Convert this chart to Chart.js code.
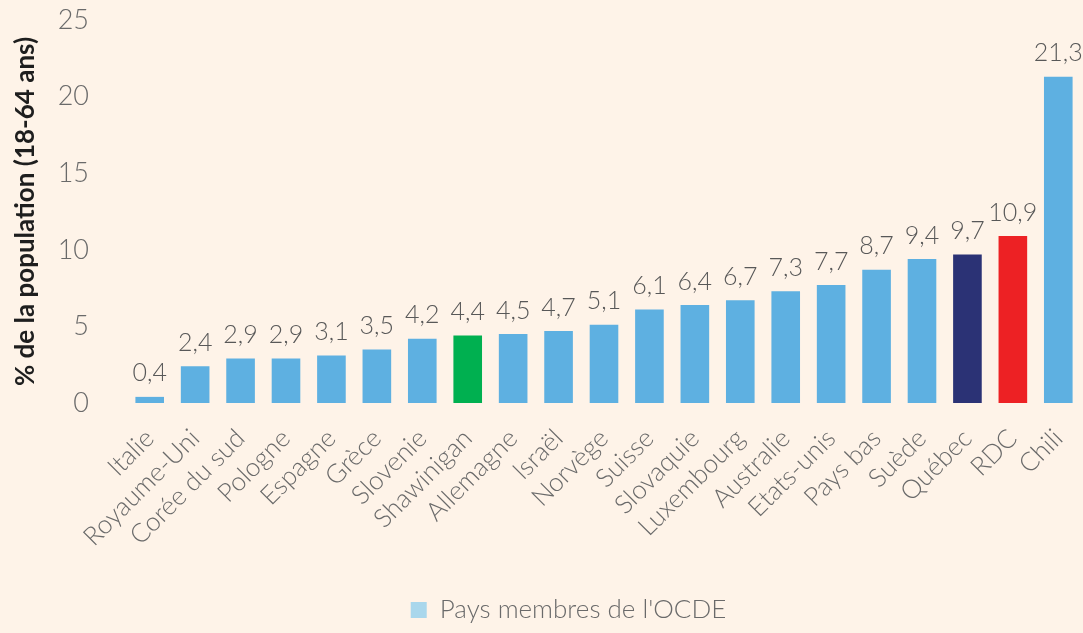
<!DOCTYPE html>
<html lang="fr">
<head>
    <meta charset="UTF-8">
    <title>Pays membres de l'OCDE</title>
    <script src="https://cdn.jsdelivr.net/npm/chart.js"></script>
    <style>
        html, body {
            margin: 0;
            padding: 0;
            background-color: #fef3e8;
        }
        .wrap {
            width: 1083px;
            height: 633px;
        }
    </style>
</head>
<body>
    <div class="wrap">
        <canvas id="chart" width="1083" height="633"></canvas>
    </div>
    <script>
        const pays = ['Italie', 'Royaume-Uni', 'Corée du sud', 'Pologne', 'Espagne', 'Grèce', 'Slovenie',
            'Shawinigan', 'Allemagne', 'Israël', 'Norvège', 'Suisse', 'Slovaquie', 'Luxembourg',
            'Australie', 'Etats-unis', 'Pays bas', 'Suède', 'Québec', 'RDC', 'Chili'];
        const valeurs = [0.4, 2.4, 2.9, 2.9, 3.1, 3.5, 4.2, 4.4, 4.5, 4.7, 5.1, 6.1, 6.4, 6.7,
            7.3, 7.7, 8.7, 9.4, 9.7, 10.9, 21.3];
        const yTicks = [0, 5, 10, 15, 20, 25];

        const bleu = '#5eb0e1';
        const couleurs = pays.map(p => {
            if (p === 'Shawinigan') return '#00b050';
            if (p === 'Québec') return '#2b3275';
            if (p === 'RDC') return '#ed2124';
            return bleu;
        });

        const fontFam = "Lato, 'Open Sans', sans-serif";

        // writes each value above its bar, with a decimal comma
        const valeursAuDessus = {
            id: 'valeursAuDessus',
            afterDatasetsDraw(chart) {
                const ctx = chart.ctx;
                const meta = chart.getDatasetMeta(0);
                ctx.save();
                ctx.font = '300 25px ' + fontFam;
                ctx.fillStyle = '#585858';
                ctx.textAlign = 'center';
                ctx.textBaseline = 'bottom';
                meta.data.forEach((bar, i) => {
                    const txt = valeurs[i].toFixed(1).replace('.', ',');
                    ctx.fillText(txt, bar.x, bar.y - 11);
                });
                ctx.restore();
            }
        };

        // nudge the legend a little to the right of the canvas centre
        const legendeDecalee = {
            id: 'legendeDecalee',
            afterLayout(chart) {
                chart.legend.left += 28;
                chart.legend.right += 28;
            }
        };

        new Chart(document.getElementById('chart'), {
            type: 'bar',
            data: {
                labels: pays,
                datasets: [{
                    label: "Pays membres de l'OCDE",
                    data: valeurs,
                    backgroundColor: couleurs,
                    barPercentage: 0.9,
                    categoryPercentage: 0.7
                }]
            },
            options: {
                responsive: false,
                animation: false,
                layout: { padding: { left: 0, right: 2, top: 20, bottom: 0 } },
                scales: {
                    x: {
                        grid: { display: false },
                        border: { display: false },
                        afterFit(scale) {
                            scale.height = 186;
                            scale.paddingLeft = 0;
                            scale.paddingRight = 0;
                        },
                        ticks: {
                            autoSkip: false,
                            color: '#6a6a6a',
                            font: { family: fontFam, size: 26, weight: 300 },
                            minRotation: 45,
                            maxRotation: 45,
                            padding: 12
                        }
                    },
                    y: {
                        min: 0,
                        max: 25,
                        grid: { display: false },
                        border: { display: false },
                        afterBuildTicks(scale) {
                            scale.ticks = yTicks.map(v => ({ value: v }));
                        },
                        afterFit(scale) {
                            scale.width = 127;
                            scale.paddingTop = 0;
                            scale.paddingBottom = 0;
                        },
                        ticks: {
                            color: '#6a6a6a',
                            font: { family: fontFam, size: 27, weight: 300 },
                            padding: 30
                        },
                        title: {
                            display: true,
                            text: '% de la population (18-64 ans)',
                            color: '#1e1e1e',
                            font: { family: fontFam, size: 26, weight: 'bold' },
                            padding: { top: 10, bottom: 0 }
                        }
                    }
                },
                plugins: {
                    legend: {
                        position: 'bottom',
                        labels: {
                            color: '#6a6a6a',
                            font: { family: fontFam, size: 26, weight: 300 },
                            boxWidth: 16,
                            boxHeight: 16,
                            padding: 8,
                            generateLabels() {
                                return [{
                                    text: "Pays membres de l'OCDE",
                                    fillStyle: '#a9d7ec',
                                    strokeStyle: '#a9d7ec',
                                    lineWidth: 0,
                                    fontColor: '#6a6a6a',
                                    datasetIndex: 0
                                }];
                            }
                        }
                    },
                    tooltip: { enabled: false }
                }
            },
            plugins: [valeursAuDessus, legendeDecalee]
        });
    </script>
</body>
</html>
